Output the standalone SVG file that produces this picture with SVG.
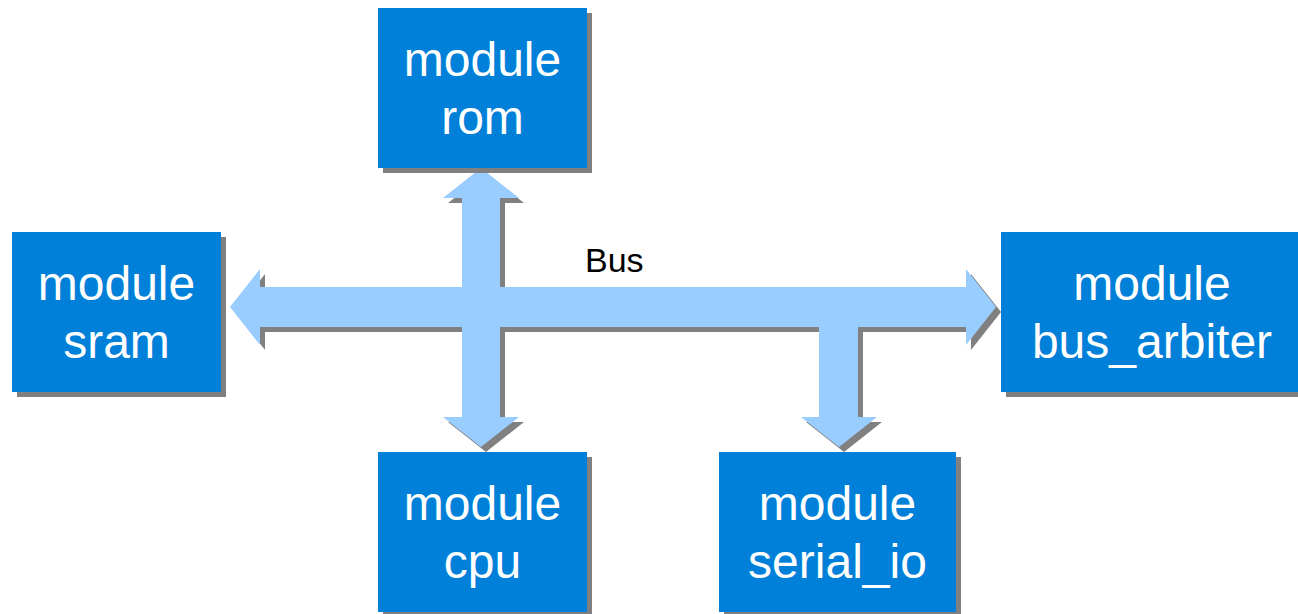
<svg xmlns="http://www.w3.org/2000/svg" width="1298" height="614" viewBox="0 0 1298 614">
  <style>
    .shadow { fill: #808080; }
    .box { fill: #0080D8; }
    .label { fill: #FFFFFF; font-family: "Liberation Sans", Arial, sans-serif; font-size: 48px; text-anchor: middle; }
    .bus { fill: #99CCFF; }
    .bus-label { fill: #000000; font-family: "Liberation Sans", Arial, sans-serif; font-size: 34px; }
  </style>
  <defs>
    <!-- Bus outline: horizontal bus with double heads, branches to rom, cpu and serial_io -->
    <path id="bus-shape" d="M481,168 L519,198 L500,198 L500,287 L966,287 L966,269 L996,307 L966,345 L966,327 L858,327 L858,417 L877,417 L839,447 L801,417 L819,417 L819,327 L500,327 L500,417 L519,417 L481,447 L443,417 L462,417 L462,327 L260,327 L260,345 L230,307 L260,269 L260,287 L462,287 L462,198 L443,198 Z"/>
  </defs>

  <rect width="1298" height="614" fill="#FFFFFF"/>

  <!-- Connectors -->
  <g id="connectors">
    <use href="#bus-shape" class="shadow" transform="translate(5,5)"/>
    <use href="#bus-shape" class="bus"/>
    <text class="bus-label" x="585" y="272">Bus</text>
  </g>

  <!-- Nodes -->
  <g id="rom">
    <rect class="shadow" x="383" y="13" width="209" height="160"/>
    <rect class="box" x="378" y="8" width="209" height="160"/>
    <text class="label" x="482.5" y="76">module</text>
    <text class="label" x="482.5" y="134">rom</text>
  </g>

  <g id="sram">
    <rect class="shadow" x="17" y="237" width="209" height="160"/>
    <rect class="box" x="12" y="232" width="209" height="160"/>
    <text class="label" x="116.5" y="300">module</text>
    <text class="label" x="116.5" y="358">sram</text>
  </g>

  <g id="bus_arbiter">
    <rect class="shadow" x="1006" y="237" width="302" height="160"/>
    <rect class="box" x="1001" y="232" width="302" height="160"/>
    <text class="label" x="1152" y="300">module</text>
    <text class="label" x="1152" y="358">bus_arbiter</text>
  </g>

  <g id="cpu">
    <rect class="shadow" x="383" y="457" width="209" height="160"/>
    <rect class="box" x="378" y="452" width="209" height="160"/>
    <text class="label" x="482.5" y="520">module</text>
    <text class="label" x="482.5" y="578">cpu</text>
  </g>

  <g id="serial_io">
    <rect class="shadow" x="724" y="457" width="237" height="160"/>
    <rect class="box" x="719" y="452" width="237" height="160"/>
    <text class="label" x="837.5" y="520">module</text>
    <text class="label" x="837.5" y="578">serial_io</text>
  </g>
</svg>
